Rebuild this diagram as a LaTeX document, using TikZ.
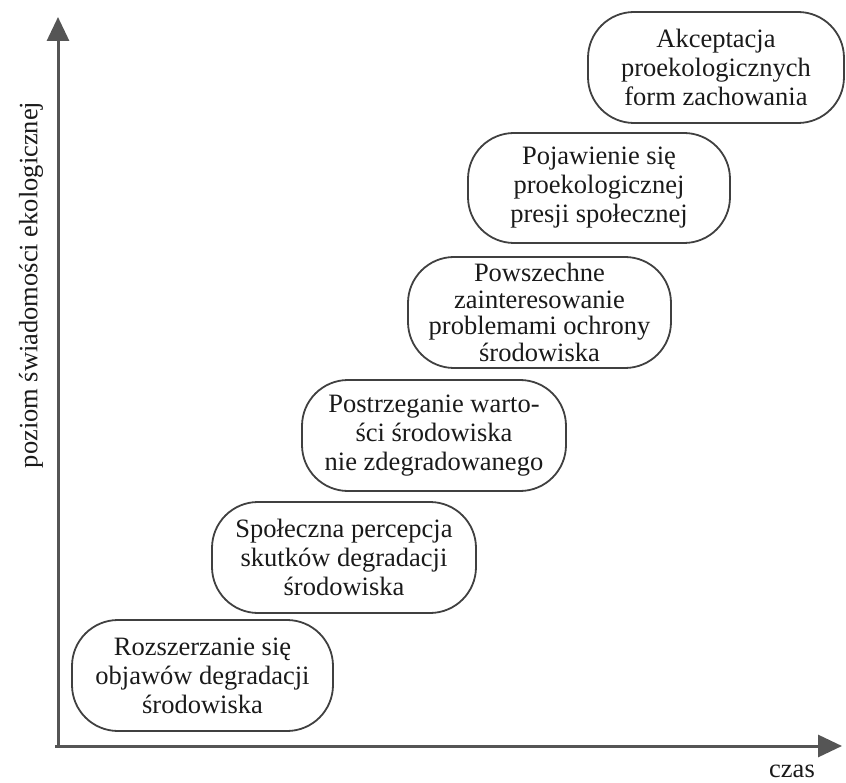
\documentclass[tikz,border=0pt]{standalone}
\usepackage{fontspec}
\setmainfont{Liberation Serif}
\usetikzlibrary{arrows.meta}
\definecolor{lineg}{HTML}{404040}
\definecolor{axisg}{HTML}{555555}
\definecolor{txtg}{HTML}{1a1a1a}
\tikzset{
  stage/.style={draw=lineg, line width=1.8pt, rounded corners=46pt,
    minimum height=111pt, inner sep=0pt, align=center, text=txtg,
    font=\fontsize{26.5}{29}\selectfont},
  axisline/.style={draw=axisg, line width=3pt,
    -{Triangle[length=24pt,width=22pt]}},
  lbl/.style={text=txtg, font=\fontsize{26.5}{29}\selectfont, inner sep=0pt}
}
\begin{document}
\begin{tikzpicture}[x=1pt,y=1pt]
\useasboundingbox (0,0) rectangle (846,-783);
\coordinate (origin) at (58,-746);
\coordinate (ytip) at (58,-17);
\coordinate (xtip) at (842,-746);
\draw[axisline] ([yshift=-1.5pt]origin) -- (ytip);
\draw[axisline] ([xshift=-3pt]origin) -- (xtip);
\node[lbl, anchor=base] (czas) at (792,-777) {czas};
\node[lbl, rotate=90] (ylab) at (31,-285) {poziom świadomości ekologicznej};
\node[stage, minimum width=261pt] (b1) at (202.5,-675.5) {Rozszerzanie się\\objawów degradacji\\środowiska};
\node[stage, minimum width=264pt] (b2) at (344,-557.5) {Społeczna percepcja\\skutków degradacji\\środowiska};
\node[stage, minimum width=264pt] (b3) at (434,-435.5) {Postrzeganie warto-\\ści środowiska\\nie zdegradowanego};
\node[stage, minimum width=263pt, font=\fontsize{26.5}{26.5}\selectfont] (b4) at (539.5,-312.5) {Powszechne\\zainteresowanie\\problemami ochrony\\środowiska};
\node[stage, minimum width=262pt, minimum height=110pt] (b5) at (599,-188) {Pojawienie się\\proekologicznej\\presji społecznej};
\node[stage, minimum width=256pt] (b6) at (716,-67.5) {Akceptacja\\proekologicznych\\form zachowania};
\end{tikzpicture}
\end{document}
